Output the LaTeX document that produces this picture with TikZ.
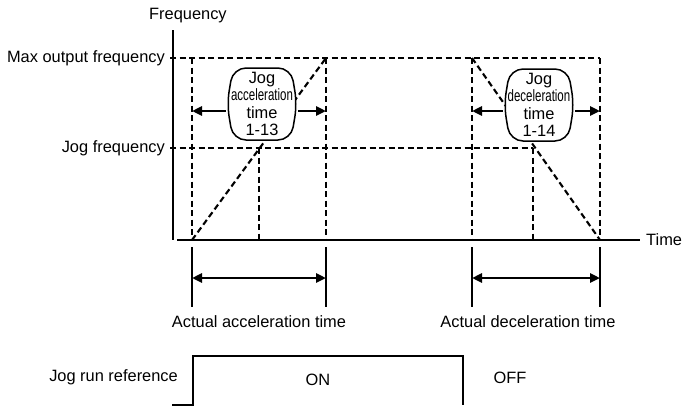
\documentclass[tikz,border=0pt]{standalone}
\usepackage{fontspec}
\setmainfont{Liberation Sans}
\usepackage{graphicx}
\usetikzlibrary{arrows.meta, positioning, calc}

\tikzset{
	every node/.style={font=\fontsize{16.4}{17.5}\selectfont, inner sep=1pt},
	axis/.style={line width=1.6pt},
	guide/.style={line width=2.1pt, dash pattern=on 6pt off 3.5pt},
	tick/.style={line width=1.2pt},
	span/.style={line width=2.6pt, {Triangle[length=10pt,width=9pt]}-{Triangle[length=10pt,width=9pt]}},
	outarrow/.style={line width=2.6pt, -{Triangle[length=10pt,width=9pt]}},
	boxline/.style={line width=1.5pt, rounded corners=13pt, fill=white},
	boxtext/.style={align=center, minimum width=70pt, minimum height=72pt},
	signal/.style={line width=1.6pt},
}
\newcommand{\narrow}[1]{\scalebox{0.7}[1]{#1}}
\newcommand{\barrel}[1]{%
	\draw[boxline] ($(#1)+(-29,-36)$) -- ($(#1)+(29,-36)$) -- ($(#1)+(35,0)$)
	-- ($(#1)+(29,36)$) -- ($(#1)+(-29,36)$) -- ($(#1)+(-35,0)$) -- cycle;}

\begin{document}
\begin{tikzpicture}[x=1pt, y=-1pt]
	\useasboundingbox (0,0) rectangle (683,407);
	
	% Key points
	\coordinate (O) at (173,240);
	\coordinate (fmaxlvl) at (170,58);
	\coordinate (fjoglvl) at (170,148);
	\coordinate (ta0) at (192,240);
	\coordinate (ta1) at (259,240);
	\coordinate (ta2) at (326,240);
	\coordinate (td0) at (472,240);
	\coordinate (td1) at (533,240);
	\coordinate (td2) at (600,240);
	
	% Axes
	\draw[axis] (173,30) -- (O);
	\draw[axis] (177,240) -- (640,240);
	\node[anchor=west] (freq) at (148,16) {Frequency};
	\node[anchor=west] (time) at (645,240) {Time};
	
	% Levels
	\node[anchor=east] (fmax) at (166,58) {Max output frequency};
	\node[anchor=east] (fjog) at (166,148) {Jog frequency};
	\draw[guide] (fmaxlvl) -- (td2 |- fmaxlvl);
	\draw[guide] (fjoglvl) -- (td1 |- fjoglvl);
	
	% Acceleration
	\draw[guide] (ta0 |- fmaxlvl) -- (ta0);
	\draw[guide] (ta2 |- fmaxlvl) -- (ta2);
	\draw[guide] (ta1 |- fjoglvl) -- (ta1);
	\draw[guide] (ta0) -- (ta2 |- fmaxlvl);
	
	% Deceleration
	\draw[guide] (td0 |- fmaxlvl) -- (td0);
	\draw[guide] (td2 |- fmaxlvl) -- (td2);
	\draw[guide] (td1 |- fjoglvl) -- (td1);
	\draw[guide] (td0 |- fmaxlvl) -- (td2);
	
	% Jog time boxes
	\coordinate (accbox) at (262,104);
	\coordinate (decbox) at (539,105);
	\barrel{accbox}
	\barrel{decbox}
	\node[boxtext] (jacc) at (accbox) {Jog\\\narrow{acceleration}\\time\\1-13};
	\node[boxtext] (jdec) at (decbox) {Jog\\\narrow{deceleration}\\time\\1-14};
	\draw[outarrow] ([xshift=-1pt,yshift=-7pt]jacc.west) -- ([yshift=-7pt]jacc.west -| ta0);
	\draw[outarrow] ([xshift=1pt,yshift=-7pt]jacc.east) -- ([yshift=-7pt]jacc.east -| ta2);
	\draw[outarrow] ([xshift=-1pt,yshift=-6pt]jdec.west) -- ([yshift=-6pt]jdec.west -| td0);
	\draw[outarrow] ([xshift=1pt,yshift=-6pt]jdec.east) -- ([yshift=-6pt]jdec.east -| td2);
	
	% Actual times
	\foreach \t in {ta0,ta2,td0,td2}{
		\draw[tick] ([yshift=-7pt]\t) -- ([yshift=-67pt]\t);
	}
	\draw[span] ([yshift=-38pt]ta0) -- ([yshift=-38pt]ta2);
	\draw[span] ([yshift=-38pt]td0) -- ([yshift=-38pt]td2);
	\node (lacc) at (259,322) {Actual acceleration time};
	\node (ldec) at (528,322) {Actual deceleration time};
	
	% Jog run reference
	\draw[signal] (172,405) -- (193,405) -- (193,356) -- (463,356) -- (463,405);
	\node[anchor=east] (jrun) at (179,377) {Jog run reference};
	\node (on) at (318,380) {ON};
	\node (off) at (510,378) {OFF};
	
\end{tikzpicture}
\end{document}
